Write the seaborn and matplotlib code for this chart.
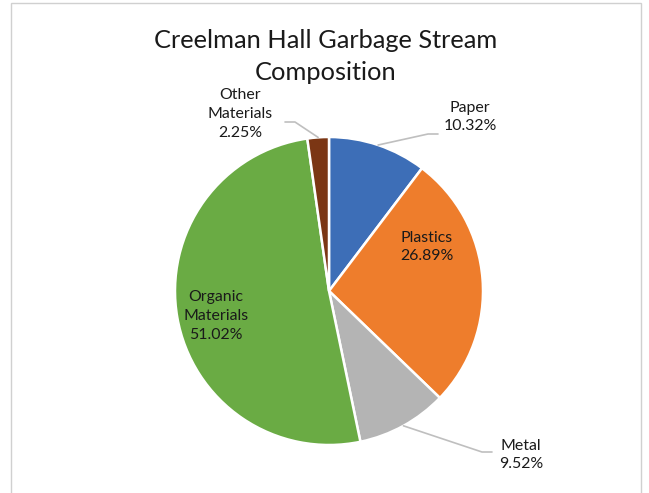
import numpy as np
import matplotlib
matplotlib.use("Agg")
import matplotlib.pyplot as plt
import seaborn as sns

categories = ["Paper", "Plastics", "Metal", "Organic\nMaterials", "Other\nMaterials"]
shares = [10.32, 26.89, 9.52, 51.02, 2.25]
colors = ["#3D6EB7", "#EE7D2C", "#B4B4B4", "#6AAB44", "#7B3614"]

sns.set_theme(style="white")
plt.rcParams["font.family"] = ["Lato", "DejaVu Sans"]

W, H = 649, 493
fig = plt.figure(figsize=(W / 100, H / 100), dpi=100)
ax = fig.add_axes([0, 0, 1, 1])
ax.set_xlim(0, W)
ax.set_ylim(0, H)
ax.set_aspect("equal")
ax.axis("off")

# chart frame
ax.add_patch(plt.Rectangle((11, -10), 630, H - 3 + 10, fill=False,
                           edgecolor="#D0D0D0", lw=1.0))

cx, cy, r = 329, H - 291, 154
wedges, _ = ax.pie(shares, colors=colors, startangle=90, counterclock=False,
                   center=(cx, cy), radius=r, frame=True,
                   wedgeprops=dict(edgecolor="white", linewidth=1.8))
ax.set_xlim(0, W)
ax.set_ylim(0, H)
ax.axis("off")

ax.text(326, H - 41, "Creelman Hall Garbage Stream", ha="center",
        va="center", fontsize=18.3, color="#1a1a1a")
ax.text(326, H - 72, "Composition", ha="center",
        va="center", fontsize=18.3, color="#1a1a1a")

# label positions: (x, y) in pixels
label_pos = [(470, 117), (427, 247), (521, 455), (216, 316), (240, 114)]
line_ends = [(438, 134), None, (492, 452), None, (285, 122)]

for w, cat, val, (lx, ly), end in zip(wedges, categories, shares,
                                      label_pos, line_ends):
    ax.text(lx, H - ly, f"{cat}\n{val:.2f}%", ha="center", va="center",
            fontsize=11.4, color="#1a1a1a", linespacing=1.42)
    if end is not None:
        mid = np.deg2rad((w.theta1 + w.theta2) / 2)
        px, py = cx + r * np.cos(mid), cy + r * np.sin(mid)
        ex, ey = end
        ax.plot([px, ex - 10 if ex > px else ex + 10, ex],
                [py, H - ey, H - ey], color="#BFBFBF", lw=1.2)

fig.savefig("out.png", dpi=100)
